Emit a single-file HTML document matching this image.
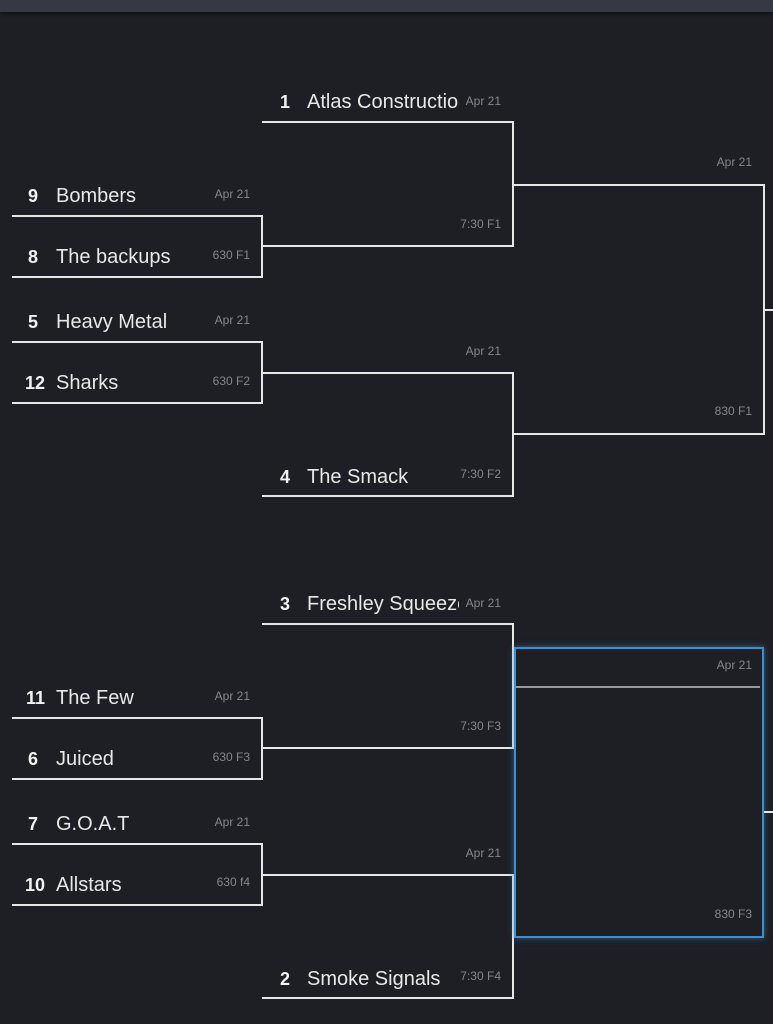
<!DOCTYPE html>
<html><head><style>
body{margin:0;width:773px;height:1024px;background:#1e1f24;position:relative;overflow:hidden;font-family:"Liberation Sans",sans-serif;}
.top{position:absolute;left:0;top:0;width:773px;height:12px;background:#363943;box-shadow:0 2px 4px rgba(0,0,0,.5);}
.h{position:absolute;height:2px;background:#e6e6e6;}
.v{position:absolute;width:2px;background:#e6e6e6;}
.t{position:absolute;color:#e8e8e8;font-size:20px;line-height:22px;white-space:nowrap;overflow:hidden;margin-top:1px;}
.s{position:absolute;color:#f2f2f2;font-size:18px;font-weight:bold;line-height:22px;text-align:right;width:30px;margin-top:1px;}
.l{position:absolute;color:#85878d;font-size:12px;line-height:14px;white-space:nowrap;text-align:right;width:60px;}
.box{position:absolute;left:514px;top:647px;width:246px;height:287px;border:2px solid #3e8fd0;box-shadow:0 0 6px rgba(62,143,208,.6);}
</style></head><body>
<div class="top"></div>

<!-- TOP HALF -->
<div class="h" style="left:12px;top:215px;width:251px"></div>
<div class="h" style="left:12px;top:276px;width:251px"></div>
<div class="v" style="left:261px;top:215px;height:63px"></div>
<div class="s" style="left:8px;top:184px">9</div><div class="t" style="left:56px;top:184px">Bombers</div><div class="l" style="left:190px;top:187px">Apr 21</div>
<div class="s" style="left:8px;top:245px">8</div><div class="t" style="left:56px;top:245px">The backups</div><div class="l" style="left:190px;top:248px">630 F1</div>

<div class="h" style="left:12px;top:341px;width:251px"></div>
<div class="h" style="left:12px;top:402px;width:251px"></div>
<div class="v" style="left:261px;top:341px;height:63px"></div>
<div class="s" style="left:8px;top:310px">5</div><div class="t" style="left:56px;top:310px">Heavy Metal</div><div class="l" style="left:190px;top:313px">Apr 21</div>
<div class="s" style="left:15px;top:371px">12</div><div class="t" style="left:56px;top:371px">Sharks</div><div class="l" style="left:190px;top:374px">630 F2</div>

<div class="h" style="left:262px;top:121px;width:252px"></div>
<div class="h" style="left:262px;top:245px;width:252px"></div>
<div class="v" style="left:512px;top:121px;height:126px"></div>
<div class="s" style="left:260px;top:90px">1</div><div class="t" style="left:307px;top:90px;width:152px">Atlas Construction</div><div class="l" style="left:441px;top:94px">Apr 21</div>
<div class="l" style="left:441px;top:217px">7:30 F1</div>

<div class="h" style="left:262px;top:372px;width:252px"></div>
<div class="h" style="left:262px;top:495px;width:252px"></div>
<div class="v" style="left:512px;top:372px;height:125px"></div>
<div class="l" style="left:441px;top:344px">Apr 21</div>
<div class="s" style="left:260px;top:465px">4</div><div class="t" style="left:307px;top:465px">The Smack</div><div class="l" style="left:441px;top:467px">7:30 F2</div>

<div class="h" style="left:513px;top:184px;width:252px"></div>
<div class="h" style="left:513px;top:433px;width:252px"></div>
<div class="v" style="left:763px;top:184px;height:251px"></div>
<div class="h" style="left:763px;top:309px;width:10px"></div>
<div class="l" style="left:692px;top:155px">Apr 21</div>
<div class="l" style="left:692px;top:404px">830 F1</div>

<!-- BOTTOM HALF -->
<div class="h" style="left:12px;top:717px;width:251px"></div>
<div class="h" style="left:12px;top:778px;width:251px"></div>
<div class="v" style="left:261px;top:717px;height:63px"></div>
<div class="s" style="left:15px;top:686px">11</div><div class="t" style="left:56px;top:686px">The Few</div><div class="l" style="left:190px;top:689px">Apr 21</div>
<div class="s" style="left:8px;top:747px">6</div><div class="t" style="left:56px;top:747px">Juiced</div><div class="l" style="left:190px;top:750px">630 F3</div>

<div class="h" style="left:12px;top:843px;width:251px"></div>
<div class="h" style="left:12px;top:904px;width:251px"></div>
<div class="v" style="left:261px;top:843px;height:63px"></div>
<div class="s" style="left:8px;top:812px">7</div><div class="t" style="left:56px;top:812px">G.O.A.T</div><div class="l" style="left:190px;top:815px">Apr 21</div>
<div class="s" style="left:15px;top:873px">10</div><div class="t" style="left:56px;top:873px">Allstars</div><div class="l" style="left:190px;top:875px">630 f4</div>

<div class="h" style="left:262px;top:623px;width:252px"></div>
<div class="h" style="left:262px;top:747px;width:252px"></div>
<div class="v" style="left:512px;top:623px;height:126px"></div>
<div class="s" style="left:260px;top:592px">3</div><div class="t" style="left:307px;top:592px;width:152px">Freshley Squeezed</div><div class="l" style="left:441px;top:596px">Apr 21</div>
<div class="l" style="left:441px;top:719px">7:30 F3</div>

<div class="h" style="left:262px;top:874px;width:252px"></div>
<div class="h" style="left:262px;top:997px;width:252px"></div>
<div class="v" style="left:512px;top:874px;height:125px"></div>
<div class="l" style="left:441px;top:846px">Apr 21</div>
<div class="s" style="left:260px;top:967px">2</div><div class="t" style="left:307px;top:967px">Smoke Signals</div><div class="l" style="left:441px;top:969px">7:30 F4</div>

<div class="box"></div>
<div class="h" style="left:516px;top:686px;width:244px;background:#9a9a9a"></div>
<div class="h" style="left:764px;top:811px;width:9px"></div>
<div class="l" style="left:692px;top:658px">Apr 21</div>
<div class="l" style="left:692px;top:907px">830 F3</div>
</body></html>
